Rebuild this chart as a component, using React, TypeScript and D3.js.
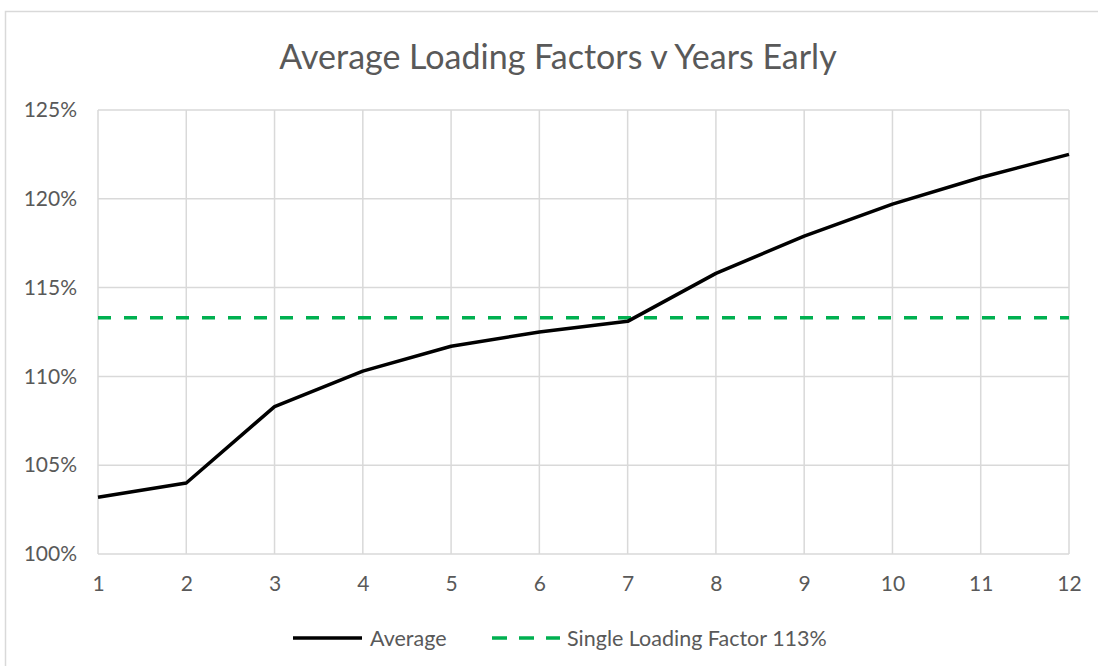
import * as d3 from "d3";
import { useEffect, useRef } from "react";

const years = [1, 2, 3, 4, 5, 6, 7, 8, 9, 10, 11, 12];
const average = [1.032, 1.040, 1.083, 1.103, 1.117, 1.125, 1.131, 1.158, 1.179, 1.197, 1.212, 1.225];
const singleFactor = 1.133;
const yTicks = [1.0, 1.05, 1.1, 1.15, 1.2, 1.25];

const W = 1098;
const H = 666;
const FONT = "Lato, 'Open Sans', sans-serif";
const TXT = "#595959";

const App = () => {
    const ref = useRef<SVGSVGElement>(null);

    useEffect(() => {
        const svg = d3.select(ref.current);
        svg.selectAll("*").remove();

        const margin = { top: 110, left: 98, right: 29, bottom: 112 };
        const x = d3.scaleLinear().domain([1, 12]).range([margin.left, W - margin.right]);
        const y = d3.scaleLinear().domain([1.0, 1.25]).range([H - margin.bottom, margin.top]);

        // outer chart frame
        svg.append("path")
            .attr("d", `M5.5,${H} L5.5,11.5 L${W},11.5`)
            .attr("fill", "none")
            .attr("stroke", "#d9d9d9")
            .attr("stroke-width", 1.5);

        svg.append("text")
            .attr("x", 558)
            .attr("y", 69)
            .attr("text-anchor", "middle")
            .style("font-family", FONT)
            .style("font-size", "34px")
            .style("fill", TXT)
            .text("Average Loading Factors v Years Early");

        // gridlines
        const grid = svg.append("g").attr("stroke", "#d9d9d9").attr("stroke-width", 1.5);
        yTicks.forEach(t => {
            grid.append("line").attr("x1", x(1)).attr("x2", x(12)).attr("y1", y(t)).attr("y2", y(t));
        });
        years.forEach(t => {
            grid.append("line").attr("x1", x(t)).attr("x2", x(t)).attr("y1", y(1)).attr("y2", y(1.25));
        });

        const yAxis = d3.axisLeft(y).tickValues(yTicks).tickSize(0).tickPadding(21)
            .tickFormat(d => d3.format(".0%")(d as number));
        const gy = svg.append("g").attr("transform", `translate(${margin.left},0)`).call(yAxis);
        gy.select(".domain").remove();
        gy.selectAll("text").style("font-family", FONT).style("font-size", "21px").style("fill", TXT);

        const xAxis = d3.axisBottom(x).tickValues(years).tickSize(0).tickPadding(22)
            .tickFormat(d3.format("d"));
        const gx = svg.append("g").attr("transform", `translate(0,${y(1)})`).call(xAxis);
        gx.select(".domain").remove();
        gx.selectAll("text").style("font-family", FONT).style("font-size", "21px").style("fill", TXT);

        // single loading factor
        svg.append("line")
            .attr("x1", x(1)).attr("x2", x(12))
            .attr("y1", y(singleFactor)).attr("y2", y(singleFactor))
            .attr("stroke", "#00b050")
            .attr("stroke-width", 3.5)
            .attr("stroke-dasharray", "13,13");

        const line = d3.line<number>().x((_, i) => x(years[i])).y(d => y(d));
        svg.append("path")
            .datum(average)
            .attr("d", line)
            .attr("fill", "none")
            .attr("stroke", "#000")
            .attr("stroke-width", 3.5)
            .attr("stroke-linejoin", "round");

        // legend
        const lg = svg.append("g").attr("transform", "translate(0,638)");
        lg.append("line").attr("x1", 293).attr("x2", 362).attr("y1", 0).attr("y2", 0)
            .attr("stroke", "#000").attr("stroke-width", 3.5);
        lg.append("text").attr("x", 370).attr("y", 7.5)
            .style("font-family", FONT).style("font-size", "21.5px").style("fill", TXT)
            .text("Average");
        lg.append("line").attr("x1", 492).attr("x2", 560).attr("y1", 0).attr("y2", 0)
            .attr("stroke", "#00b050").attr("stroke-width", 3.5).attr("stroke-dasharray", "15,12");
        lg.append("text").attr("x", 567).attr("y", 7.5)
            .style("font-family", FONT).style("font-size", "21.5px").style("fill", TXT)
            .text("Single Loading Factor 113%");
    }, []);

    return (
        <svg ref={ref} width={W} height={H}
            style={{ position: "absolute", left: 0, top: 0, background: "#fff" }}></svg>
    );
};

export default App;
